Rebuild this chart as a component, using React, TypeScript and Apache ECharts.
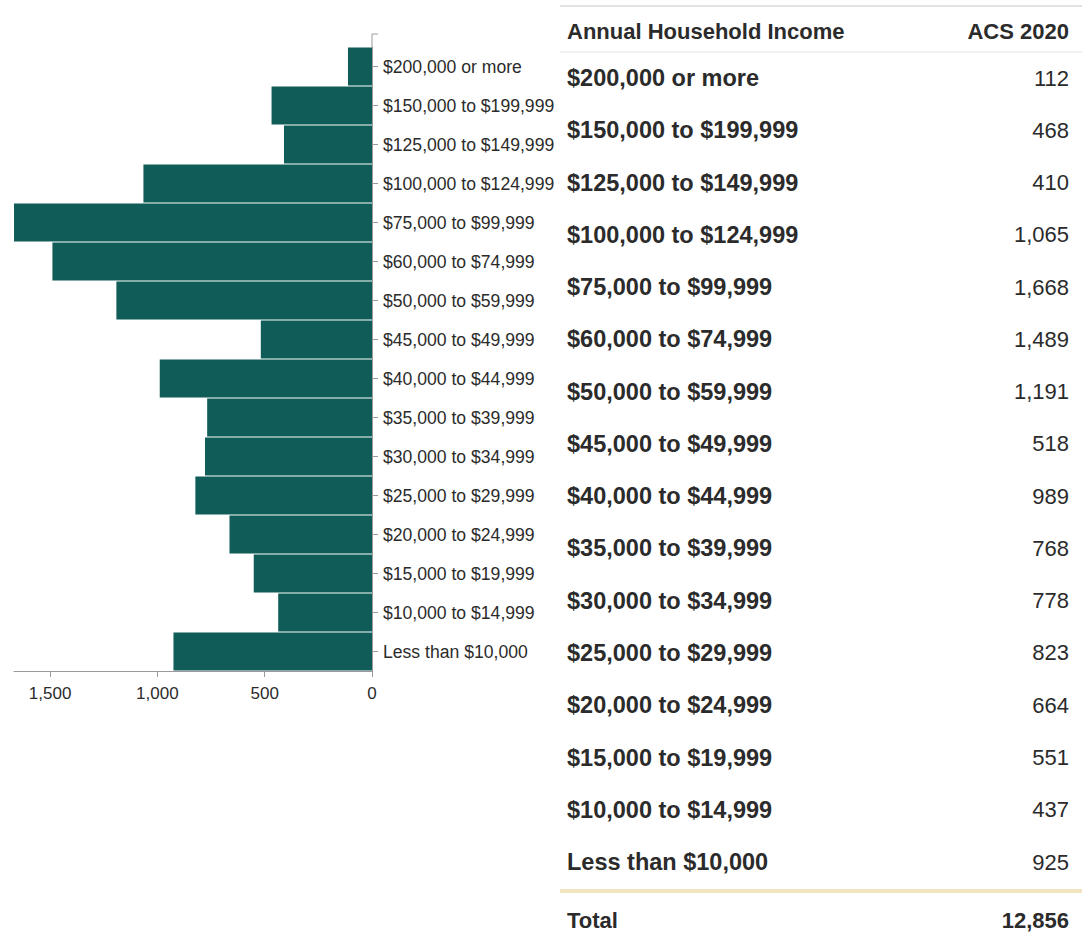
import React, { useEffect, useRef } from "react";
import * as echarts from "echarts";

const categories: string[] = [
  "$200,000 or more",
  "$150,000 to $199,999",
  "$125,000 to $149,999",
  "$100,000 to $124,999",
  "$75,000 to $99,999",
  "$60,000 to $74,999",
  "$50,000 to $59,999",
  "$45,000 to $49,999",
  "$40,000 to $44,999",
  "$35,000 to $39,999",
  "$30,000 to $34,999",
  "$25,000 to $29,999",
  "$20,000 to $24,999",
  "$15,000 to $19,999",
  "$10,000 to $14,999",
  "Less than $10,000",
];

const households: number[] = [
  112, 468, 410, 1065, 1668, 1489, 1191, 518, 989, 768, 778, 823, 664, 551, 437, 925,
];

const tableHeader: string[] = ["Annual Household Income", "ACS 2020"];
const totalLabel = "Total";

const FONT = "'Liberation Sans', Arial, Helvetica, sans-serif";
const TEXT = "#2b2b2b";
const BAR = "#105c59";
const AXIS = "#9a9a9a";

const fmt = (v: number) => v.toLocaleString("en-US");

export default function App() {
  const ref = useRef<HTMLDivElement>(null);

  useEffect(() => {
    if (!ref.current) return;
    const chart = echarts.init(ref.current, undefined, { renderer: "svg" });

    const labelX = 567;
    const valueX = 1069;
    const rowY0 = 78;
    const rowStep = 52.27;
    const total = households.reduce((a, b) => a + b, 0);

    const txt = (text: string, x: number, y: number, bold: boolean, align: string, size = 22) => ({
      type: "text",
      silent: true,
      style: {
        text,
        x,
        y,
        fill: TEXT,
        fontSize: size,
        fontWeight: bold ? "bold" : "normal",
        fontFamily: FONT,
        align,
        verticalAlign: "middle",
        textAlign: align,
        textVerticalAlign: "middle",
      },
    });

    const graphics: any[] = [
      { type: "line", silent: true, shape: { x1: 560, y1: 6, x2: 1082, y2: 6 }, style: { stroke: "#e2e2e2", lineWidth: 2 } },
      txt(tableHeader[0], labelX, 31, true, "left"),
      txt(tableHeader[1], valueX, 31, true, "right"),
      { type: "line", silent: true, shape: { x1: 560, y1: 52, x2: 1082, y2: 52 }, style: { stroke: "#ececec", lineWidth: 1.5 } },
    ];
    categories.forEach((c, i) => {
      const y = rowY0 + i * rowStep;
      graphics.push(txt(c, labelX, y, true, "left", 23.5));
      graphics.push(txt(fmt(households[i]), valueX, y, false, "right"));
    });
    graphics.push({ type: "line", silent: true, shape: { x1: 560, y1: 891, x2: 1082, y2: 891 }, style: { stroke: "#f3e4c0", lineWidth: 4 } });
    graphics.push(txt(totalLabel, labelX, 920, true, "left"));
    graphics.push(txt(fmt(total), valueX, 920, true, "right"));
    // d3-style outer tick at the top of the y axis
    graphics.push({ type: "polyline", silent: true, shape: { points: [[378, 34], [372, 34], [372, 47]] }, style: { stroke: AXIS, lineWidth: 1, fill: null } });

    chart.setOption({
      animation: false,
      grid: { left: 14, right: 714, top: 47, bottom: 263, containLabel: false },
      xAxis: {
        type: "value",
        inverse: true,
        min: 0,
        max: Math.max(...households),
        interval: 500,
        axisLine: { show: true, lineStyle: { color: AXIS, width: 1 } },
        axisTick: { show: true, length: 6, lineStyle: { color: AXIS } },
        splitLine: { show: false },
        axisLabel: {
          showMaxLabel: false,
          margin: 14,
          fontSize: 17,
          color: TEXT,
          fontFamily: FONT,
          formatter: (v: number) => fmt(v),
        },
      },
      yAxis: {
        type: "category",
        position: "right",
        inverse: true,
        data: categories,
        axisLine: { show: true, lineStyle: { color: AXIS, width: 1 } },
        axisTick: { show: true, length: 6, alignWithLabel: true, lineStyle: { color: AXIS } },
        axisLabel: { margin: 11, fontSize: 17.6, color: TEXT, fontFamily: FONT },
        splitLine: { show: false },
      },
      series: [
        {
          type: "bar",
          data: households,
          barCategoryGap: "3%",
          itemStyle: { color: BAR },
          silent: true,
        },
      ],
      graphic: graphics,
    });

    return () => chart.dispose();
  }, []);

  return (
    <div
      ref={ref}
      style={{ position: "absolute", left: 0, top: 0, width: 1086, height: 934, background: "#fff" }}
    />
  );
}
